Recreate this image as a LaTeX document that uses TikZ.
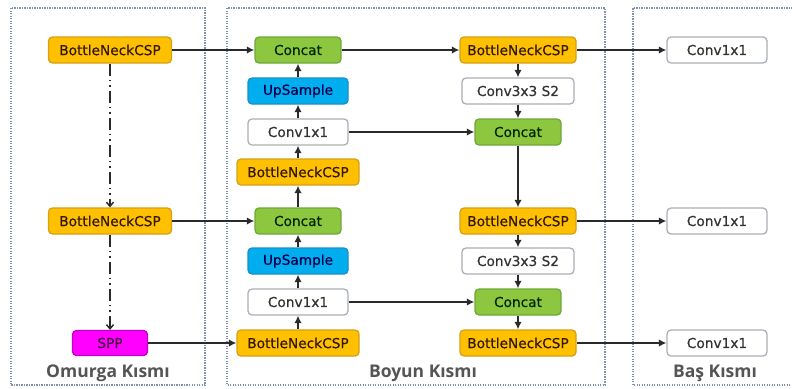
\documentclass[tikz,border=0pt]{standalone}
\usepackage{fontspec}
\setmainfont{DejaVu Sans}
\newfontfamily\nodefont[FakeBold=0.6]{DejaVu Sans}
\newfontfamily\labfont{Open Sans}
\usetikzlibrary{arrows.meta}
\definecolor{orfill}{HTML}{FFC000}
\definecolor{ordraw}{HTML}{D4A017}
\definecolor{grfill}{HTML}{8DC63F}
\definecolor{grdraw}{HTML}{6FA83A}
\definecolor{blfill}{HTML}{00AEEF}
\definecolor{bldraw}{HTML}{1C8FC4}
\definecolor{whdraw}{HTML}{A9B0B8}
\definecolor{mgfill}{HTML}{FF00FF}
\definecolor{mgdraw}{HTML}{C400C4}
\definecolor{linec}{HTML}{2A2A2A}
\definecolor{panelc}{HTML}{8093AC}
\definecolor{labc}{HTML}{555555}
\tikzset{
  blk/.style={rounded corners=4pt, line width=1.3pt, minimum height=26pt, inner sep=0pt, font=\nodefont\fontsize{13.7}{15}\selectfont},
  orb/.style={blk, fill=orfill, draw=ordraw, text=black!80!orange},
  grb/.style={blk, fill=grfill, draw=grdraw, minimum width=86pt, text=black!85!green},
  blb/.style={blk, fill=blfill, draw=bldraw, minimum width=100pt, text=black!70!blue},
  whb/.style={blk, fill=white, draw=whdraw, text=black!80},
  mgb/.style={blk, fill=mgfill, draw=mgdraw, minimum width=75pt, minimum height=25pt, text=black!45!violet},
  arr/.style={draw=linec, line width=1.5pt, -{Latex[length=7.5pt,width=7.5pt]}},
  ddarr/.style={draw=linec, line width=1.5pt, dash pattern=on 12pt off 4pt on 1.5pt off 4pt on 1.5pt off 4pt, -{Straight Barb[length=4pt,width=7pt]}},
  panel/.style={draw=panelc, line width=1.3pt, dash pattern=on 1.3pt off 1.2pt},
  lab/.style={font=\labfont\bfseries\fontsize{17.5}{20}\selectfont, text=labc}
}
\begin{document}
\begin{tikzpicture}[x=1pt,y=-1pt]
\useasboundingbox (0,0) rectangle (792,388);
\clip (0,0) rectangle (792,388);
\fill[white] (0,0) rectangle (792,388);
% panels
\draw[panel] (11,8) rectangle (205,385);
\draw[panel] (227,8) rectangle (605,385);
\draw[panel] (800,8) -- (633,8) -- (633,385) -- (800,385);
% backbone
\node[orb, minimum width=123pt] (b1) at (110,50) {BottleNeckCSP};
\node[orb, minimum width=123pt] (b2) at (110,221) {BottleNeckCSP};
\node[mgb] (spp) at (110,343) {SPP};
\node[lab] (l1) at (108,373) {Omurga Kısmı};
% neck left column
\node[grb] (c1) at (298,50) {Concat};
\node[blb] (u1) at (298,91) {UpSample};
\node[whb, minimum width=100pt] (v1) at (298,132) {Conv1x1};
\node[orb, minimum width=122pt] (n1) at (298,172) {BottleNeckCSP};
\node[grb] (c2) at (298,221) {Concat};
\node[blb] (u2) at (298,261) {UpSample};
\node[whb, minimum width=100pt] (v2) at (298,302) {Conv1x1};
\node[orb, minimum width=122pt] (n2) at (298,343) {BottleNeckCSP};
\node[lab] (l2) at (423,373) {Boyun Kısmı};
% neck right column
\node[orb, minimum width=116pt] (r1) at (518,50) {BottleNeckCSP};
\node[whb, minimum width=112pt] (s1) at (518,91) {Conv3x3 S2};
\node[grb] (rc1) at (518,132) {Concat};
\node[orb, minimum width=116pt] (r2) at (518,221) {BottleNeckCSP};
\node[whb, minimum width=112pt] (s2) at (518,261) {Conv3x3 S2};
\node[grb] (rc2) at (518,302) {Concat};
\node[orb, minimum width=116pt] (r3) at (518,343) {BottleNeckCSP};
% head
\node[whb, minimum width=100pt] (h1) at (717,50) {Conv1x1};
\node[whb, minimum width=100pt] (h2) at (717,221) {Conv1x1};
\node[whb, minimum width=100pt] (h3) at (717,343) {Conv1x1};
\node[lab] (l3) at (715,373) {Baş Kısmı};
% backbone connectors
\draw[ddarr] (b1) -- (b2);
\draw[ddarr] (b2) -- (spp);
\draw[arr] (b1) -- (c1);
\draw[arr] (b2) -- (c2);
\draw[arr] (spp) -- (n2);
% neck left column upward
\draw[arr] (n2) -- (v2);
\draw[arr] (v2) -- (u2);
\draw[arr] (u2) -- (c2);
\draw[arr] (c2) -- (n1);
\draw[arr] (n1) -- (v1);
\draw[arr] (v1) -- (u1);
\draw[arr] (u1) -- (c1);
% cross connectors
\draw[arr] (c1) -- (r1);
\draw[arr] (v1) -- (rc1);
\draw[arr] (v2) -- (rc2);
% right column downward
\draw[arr] (r1) -- (s1);
\draw[arr] (s1) -- (rc1);
\draw[arr] (rc1) -- (r2);
\draw[arr] (r2) -- (s2);
\draw[arr] (s2) -- (rc2);
\draw[arr] (rc2) -- (r3);
% head connectors
\draw[arr] (r1) -- (h1);
\draw[arr] (r2) -- (h2);
\draw[arr] (r3) -- (h3);
\end{tikzpicture}
\end{document}
